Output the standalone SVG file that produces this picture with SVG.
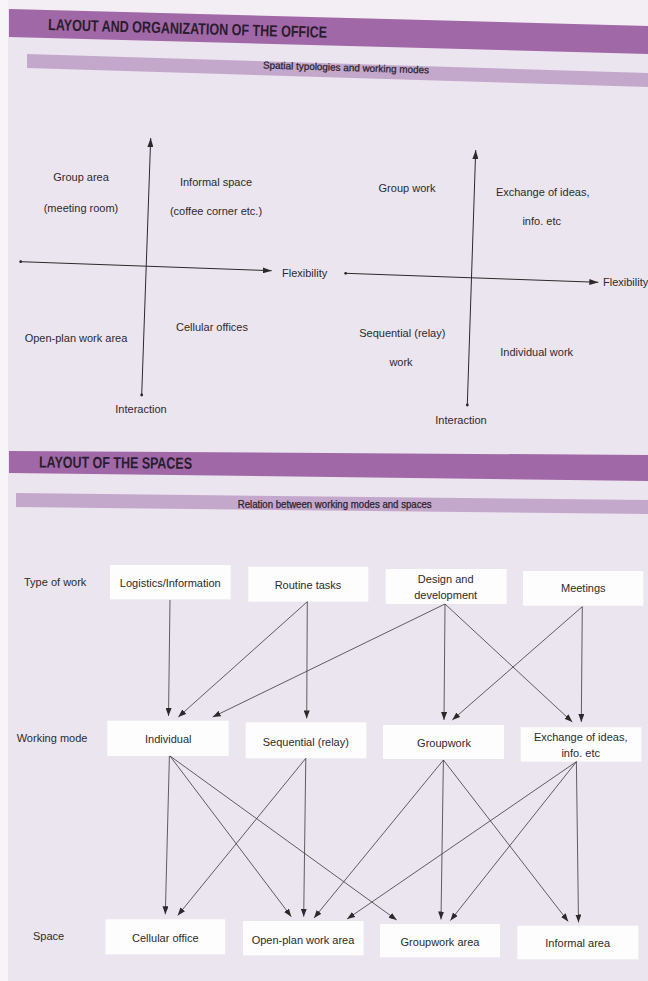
<svg xmlns="http://www.w3.org/2000/svg" width="648" height="981" viewBox="0 0 648 981">
<style>
.bg{fill:#ebe5ef}
.hdr{fill:#a068a6}
.sub{fill:#c4a8cc}
.htxt{font-family:"Liberation Sans",Arial,sans-serif;font-weight:bold;font-size:16px;fill:#2a1c2e}
.stxt{font-family:"Liberation Sans",Arial,sans-serif;font-size:10px;fill:#2a2230;stroke:#2a2230;stroke-width:0.25}
.lbl{font-family:"Liberation Sans",Arial,sans-serif;font-size:11px;fill:#2b2b2b}
.c{text-anchor:middle}
.box{fill:#fdfdfd}
.ln{stroke:#3a3a3a;stroke-width:0.8;fill:none}
.ax{stroke:#2a2a2a;stroke-width:1;fill:none}
.dot{fill:#2a2a2a}
</style>
<defs>
<marker id="ah" markerUnits="userSpaceOnUse" markerWidth="8" markerHeight="6" refX="8" refY="3" orient="auto">
<path d="M0,0 L8,3 L0,6 z" fill="#2a2a2a"/>
</marker>
<marker id="axh" markerUnits="userSpaceOnUse" markerWidth="9" markerHeight="6" refX="9" refY="3" orient="auto">
<path d="M0,0 L9,3 L0,6 z" fill="#2a2a2a"/>
</marker>
</defs>

<rect class="bg" x="0" y="0" width="648" height="981"/>
<rect x="0" y="0" width="8" height="981" fill="#f7f5f8"/>
<path d="M8,0 L648,0 L648,26 L8,9 z" fill="#f2eef4"/>

<!-- Header 1 -->
<g id="header1">
<polygon class="hdr" points="9,9 648,26 648,54 9,37"/>
<text class="htxt" x="48" y="30" textLength="279" lengthAdjust="spacingAndGlyphs" transform="rotate(1.6 48 30)">LAYOUT AND ORGANIZATION OF THE OFFICE</text>
</g>
<g id="subheader1">
<polygon class="sub" points="27,54 648,73 648,87 27,68"/>
<text class="stxt" x="263" y="68.5" textLength="166" lengthAdjust="spacingAndGlyphs" transform="rotate(1.7 263 68.5)">Spatial typologies and working modes</text>
</g>

<!-- Left quadrant chart -->
<g id="chart-left">
<line class="ax" x1="141.7" y1="395" x2="150.7" y2="138" marker-end="url(#axh)"/>
<circle class="dot" cx="141.7" cy="395" r="1.4"/>
<line class="ax" x1="20.7" y1="261.7" x2="271.7" y2="270.7" marker-end="url(#axh)"/>
<circle class="dot" cx="20.7" cy="261.7" r="1.4"/>
<text class="lbl" x="282" y="277">Flexibility</text>
<text class="lbl c" x="141" y="413">Interaction</text>
<text class="lbl c" x="81" y="181">Group area</text>
<text class="lbl c" x="81" y="212">(meeting room)</text>
<text class="lbl c" x="216" y="186">Informal space</text>
<text class="lbl c" x="216" y="215">(coffee corner etc.)</text>
<text class="lbl c" x="76" y="342">Open-plan work area</text>
<text class="lbl c" x="212" y="331">Cellular offices</text>
</g>

<!-- Right quadrant chart -->
<g id="chart-right">
<line class="ax" x1="467.3" y1="405" x2="475.7" y2="150" marker-end="url(#axh)"/>
<circle class="dot" cx="467.3" cy="405" r="1.4"/>
<line class="ax" x1="345.7" y1="273.3" x2="598.3" y2="282.3" marker-end="url(#axh)"/>
<circle class="dot" cx="345.7" cy="273.3" r="1.4"/>
<text class="lbl" x="603" y="286">Flexibility</text>
<text class="lbl c" x="461" y="424">Interaction</text>
<text class="lbl c" x="407" y="192">Group work</text>
<text class="lbl c" x="542.7" y="196">Exchange of ideas,</text>
<text class="lbl c" x="541.7" y="225">info. etc</text>
<text class="lbl c" x="402.3" y="337">Sequential (relay)</text>
<text class="lbl c" x="401" y="366">work</text>
<text class="lbl c" x="536.7" y="356">Individual work</text>
</g>

<!-- Header 2 -->
<g id="header2">
<polygon class="hdr" points="9,451 648,455 648,481 9,473"/>
<text class="htxt" x="39" y="467.5" textLength="153" lengthAdjust="spacingAndGlyphs" transform="rotate(0.5 39 467)">LAYOUT OF THE SPACES</text>
</g>
<g id="subheader2">
<polygon class="sub" points="16,493 648,500 648,514 16,507"/>
<text class="stxt" x="237.7" y="508" textLength="194" lengthAdjust="spacingAndGlyphs">Relation between working modes and spaces</text>
</g>

<!-- Row labels -->
<g id="row-labels">
<text class="lbl" x="24" y="586">Type of work</text>
<text class="lbl" x="16.7" y="742">Working mode</text>
<text class="lbl" x="33" y="940">Space</text>
</g>

<!-- Row 1: Type of work -->
<g id="n-logistics"><rect class="box" x="110" y="565" width="120.7" height="34.3"/><text class="lbl c" x="170.3" y="587">Logistics/Information</text></g>
<g id="n-routine"><rect class="box" x="248.3" y="566.7" width="120" height="35"/><text class="lbl c" x="308" y="589">Routine tasks</text></g>
<g id="n-design"><rect class="box" x="385.7" y="569" width="121" height="35"/><text class="lbl c" x="445.7" y="583">Design and</text><text class="lbl c" x="445.7" y="599">development</text></g>
<g id="n-meetings"><rect class="box" x="523" y="571" width="120.3" height="34.7"/><text class="lbl c" x="583.3" y="592">Meetings</text></g>

<!-- Row 2: Working mode -->
<g id="n-individual"><rect class="box" x="107.3" y="720.7" width="121.4" height="35.3"/><text class="lbl c" x="168.3" y="743">Individual</text></g>
<g id="n-sequential"><rect class="box" x="245.7" y="722.3" width="120.6" height="36"/><text class="lbl c" x="305.8" y="745.5">Sequential (relay)</text></g>
<g id="n-groupwork"><rect class="box" x="383" y="725" width="121" height="34"/><text class="lbl c" x="444" y="746.5">Groupwork</text></g>
<g id="n-exchange"><rect class="box" x="520.7" y="727.3" width="120.6" height="34.4"/><text class="lbl c" x="580.7" y="741">Exchange of ideas,</text><text class="lbl c" x="580.7" y="756.5">info. etc</text></g>

<!-- Row 3: Space -->
<g id="n-cellular"><rect class="box" x="105.4" y="919.3" width="119.8" height="35"/><text class="lbl c" x="165.3" y="941.5">Cellular office</text></g>
<g id="n-openplan"><rect class="box" x="243" y="921" width="120.6" height="34.3"/><text class="lbl c" x="303" y="944">Open-plan work area</text></g>
<g id="n-groupworkarea"><rect class="box" x="380" y="924" width="120" height="33.3"/><text class="lbl c" x="440" y="945.5">Groupwork area</text></g>
<g id="n-informal"><rect class="box" x="517.4" y="925.7" width="121" height="33.6"/><text class="lbl c" x="577.7" y="946.5">Informal area</text></g>

<!-- Connectors -->
<g id="connectors" class="ln">
<line x1="170" y1="600" x2="168.5" y2="716" marker-end="url(#ah)"/>
<line x1="307.3" y1="601.7" x2="178.3" y2="717" marker-end="url(#ah)"/>
<line x1="307.3" y1="601.7" x2="306.7" y2="718.5" marker-end="url(#ah)"/>
<line x1="445" y1="604" x2="212.7" y2="717" marker-end="url(#ah)"/>
<line x1="445" y1="604" x2="444" y2="720" marker-end="url(#ah)"/>
<line x1="445" y1="604" x2="572.3" y2="722" marker-end="url(#ah)"/>
<line x1="582.3" y1="606.7" x2="452.3" y2="720" marker-end="url(#ah)"/>
<line x1="582.3" y1="606.7" x2="581.3" y2="722" marker-end="url(#ah)"/>

<line x1="169.4" y1="756" x2="165.3" y2="914.3" marker-end="url(#ah)"/>
<line x1="170" y1="756" x2="291.3" y2="916.7" marker-end="url(#ah)"/>
<line x1="170" y1="756" x2="396.7" y2="920" marker-end="url(#ah)"/>
<line x1="305.8" y1="758.3" x2="177.7" y2="915.5" marker-end="url(#ah)"/>
<line x1="305.8" y1="758.3" x2="303.7" y2="916.7" marker-end="url(#ah)"/>
<line x1="443.4" y1="760" x2="314" y2="918" marker-end="url(#ah)"/>
<line x1="443.4" y1="760" x2="441" y2="919.5" marker-end="url(#ah)"/>
<line x1="443.4" y1="760" x2="568.2" y2="921.5" marker-end="url(#ah)"/>
<line x1="576.4" y1="761.7" x2="347.1" y2="919" marker-end="url(#ah)"/>
<line x1="576.4" y1="761.7" x2="450.4" y2="920.5" marker-end="url(#ah)"/>
<line x1="576.4" y1="761.7" x2="578.5" y2="922.5" marker-end="url(#ah)"/>
</g>
</svg>
